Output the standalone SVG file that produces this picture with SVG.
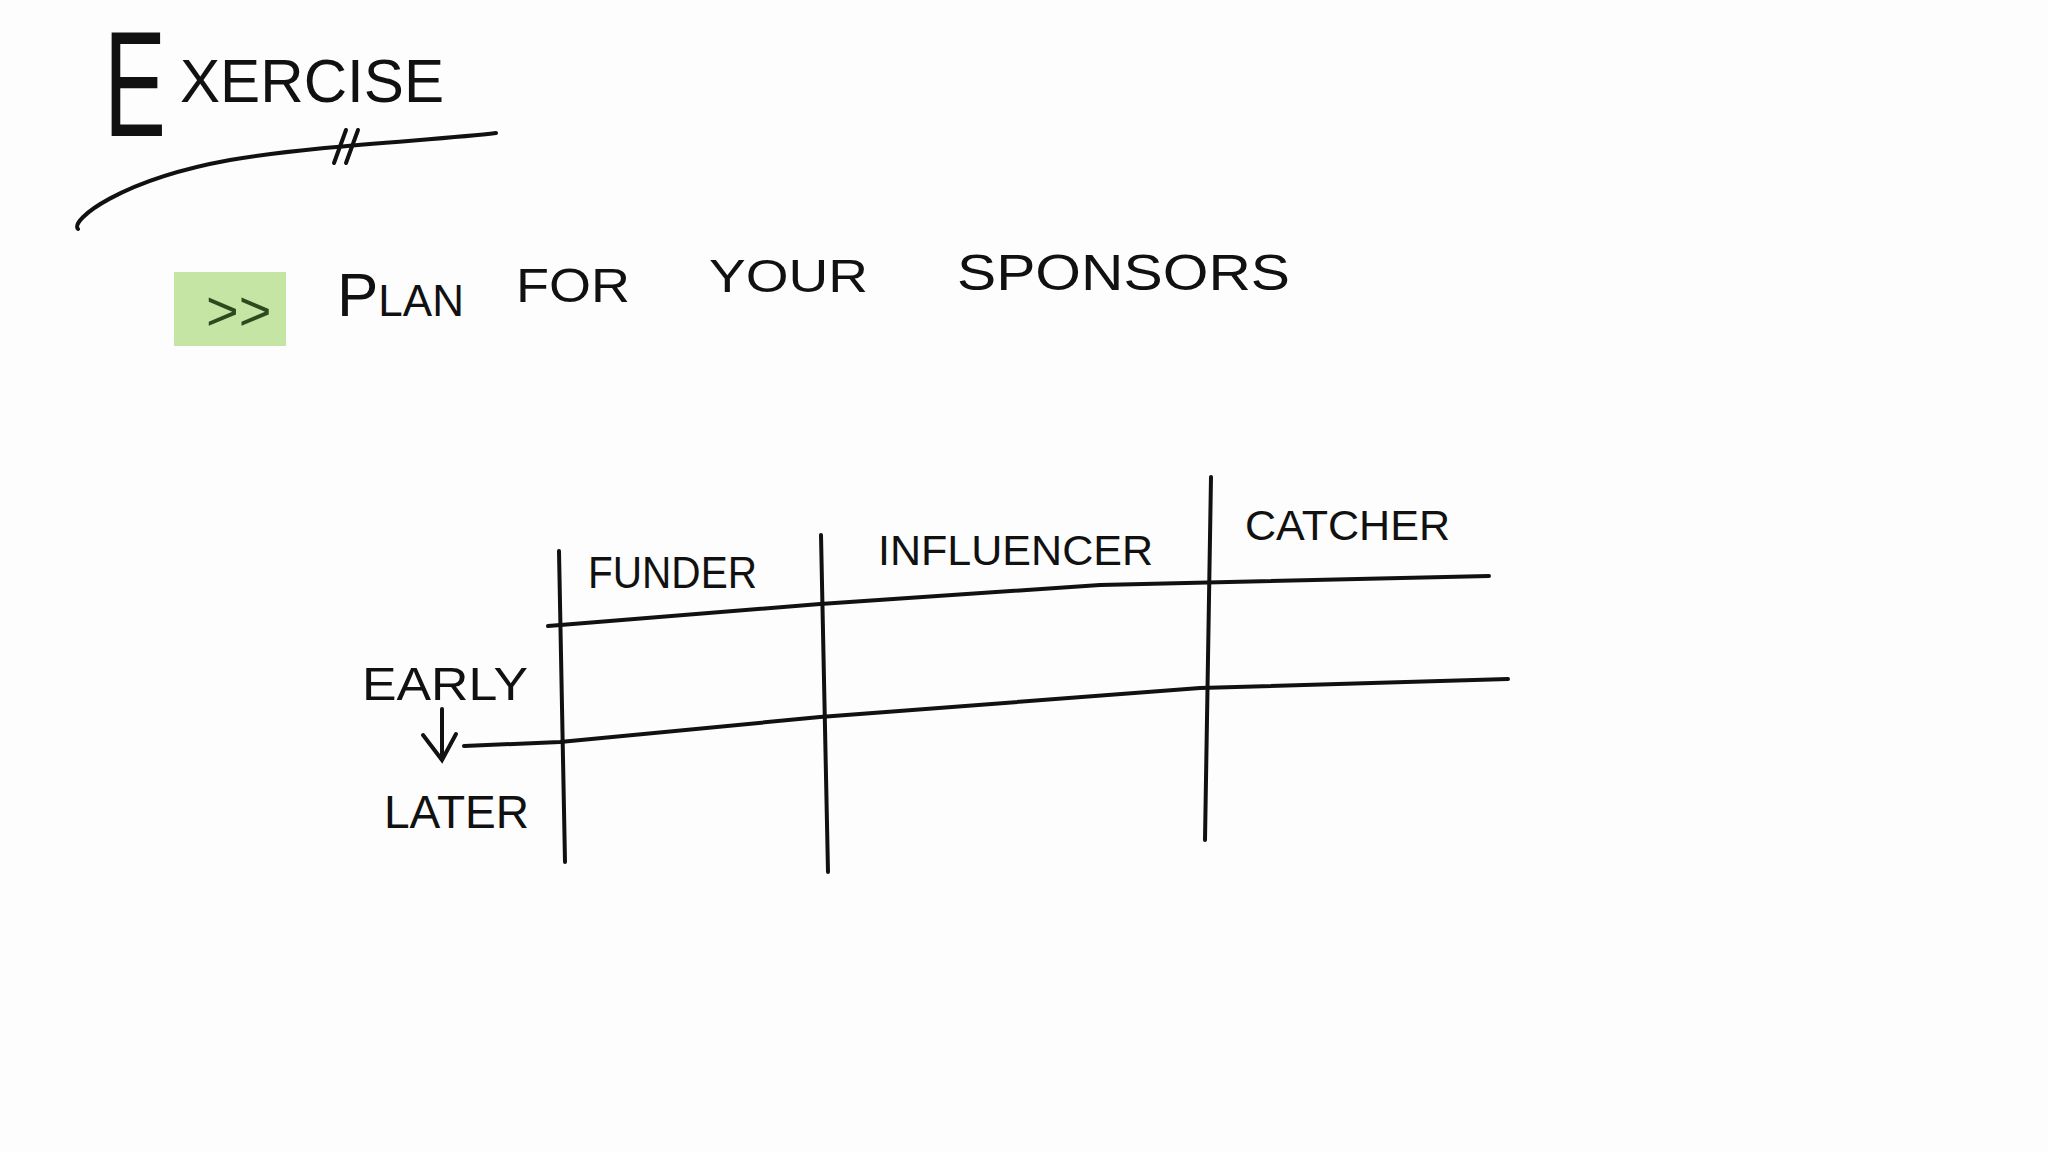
<svg xmlns="http://www.w3.org/2000/svg" width="2048" height="1152" viewBox="0 0 2048 1152">
<style>
.t{font-family:"Liberation Sans",Arial,sans-serif;fill:#111;}
.l{stroke:#111;stroke-width:4;fill:none;stroke-linecap:round;}
</style>
<rect width="2048" height="1152" fill="#fdfdfd"/>
<g id="title">
<text class="t" x="104" y="136" font-size="150" textLength="62" lengthAdjust="spacingAndGlyphs">E</text>
<text class="t" x="180" y="102" font-size="62" textLength="264" lengthAdjust="spacingAndGlyphs">XERCISE</text>
<path class="l" d="M78,229 C70,220 120,180 230,160 C320,145 440,140 496,133"/>
<path class="l" d="M334,163 L346,130 M346,163 L358,130" stroke-width="3"/>
</g>
<g id="bullet">
<rect x="174" y="272" width="112" height="74" fill="#c5e5a5"/>
<text x="206" y="330" font-family="Liberation Sans,sans-serif" font-size="56" fill="#2d4a1e">&gt;&gt;</text>
<text class="t" x="337" y="316" font-size="62">P<tspan font-size="44">LAN</tspan></text>
<text class="t" x="516" y="302" font-size="48" textLength="114" lengthAdjust="spacingAndGlyphs">FOR</text>
<text class="t" x="709" y="292" font-size="46" textLength="159" lengthAdjust="spacingAndGlyphs">YOUR</text>
<text class="t" x="957" y="290" font-size="50" textLength="333" lengthAdjust="spacingAndGlyphs">SPONSORS</text>
</g>
<g id="headers">
<text class="t" x="588" y="588" font-size="44" textLength="169" lengthAdjust="spacingAndGlyphs">FUNDER</text>
<text class="t" x="878" y="565" font-size="42" textLength="275" lengthAdjust="spacingAndGlyphs">INFLUENCER</text>
<text class="t" x="1245" y="540" font-size="42" textLength="205" lengthAdjust="spacingAndGlyphs">CATCHER</text>
<text class="t" x="362" y="700" font-size="46" textLength="166" lengthAdjust="spacingAndGlyphs">EARLY</text>
<text class="t" x="384" y="828" font-size="46" textLength="145" lengthAdjust="spacingAndGlyphs">LATER</text>
</g>
<g id="connectors">
<path class="l" d="M559,551 L565,862"/>
<path class="l" d="M821,535 L828,872"/>
<path class="l" d="M1211,477 L1205,840"/>
<path class="l" d="M548,626 L820,604 L1100,585 L1489,576"/>
<path class="l" d="M464,746 L560,742 L820,717 L1200,688 L1508,679"/>
<path class="l" d="M442,709 L442,760 M423,735 L442,760 L456,734" stroke-width="3.5"/>
</g>
</svg>
